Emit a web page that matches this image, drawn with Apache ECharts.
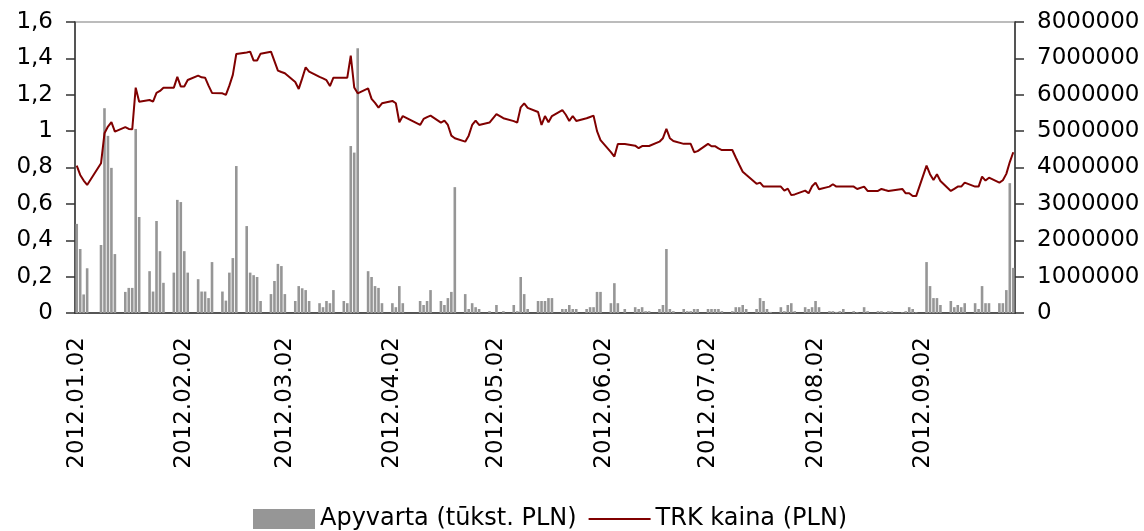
<!DOCTYPE html>
<html><head><meta charset="utf-8">
<script src="https://cdn.jsdelivr.net/npm/echarts@6/dist/echarts.min.js"></script>
<style>html,body{margin:0;padding:0;background:#fff}#c{width:1144px;height:531px}</style>
</head><body><div id="c"></div>
<script>
// Calendar range of the x axis (every calendar day is a category; weekends are empty)
const firstDay = [2012, 0, 2];
const lastDay = [2012, 8, 28];

// Series names
const seriesNames = ['Apyvarta (tūkst. PLN)', 'TRK kaina (PLN)'];

// TRK price, one value per weekday (Mon..Fri), null = exchange holiday
const price = [
  0.810, 0.759, 0.728, 0.704, null,
  0.823, 0.988, 1.025, 1.049, 0.997,
  1.022, 1.012, 1.010, 1.239, 1.162,
  1.171, 1.162, 1.210, 1.221, 1.239,
  1.239, 1.298, 1.245, 1.245, 1.281,
  1.305, 1.296, 1.294, 1.250, 1.210,
  1.208, 1.199, 1.250, 1.309, 1.424,
  1.432, 1.437, 1.388, 1.388, 1.426,
  1.437, 1.385, 1.333, 1.325, 1.318,
  1.270, 1.232, 1.290, 1.351, 1.327,
  1.298, 1.290, 1.280, 1.248, 1.294,
  1.294, 1.294, 1.415, 1.240, 1.208,
  1.235, 1.177, 1.155, 1.129, 1.153,
  1.166, 1.153, 1.049, 1.083, null,
  null, 1.034, 1.067, 1.077, 1.085,
  1.047, 1.058, 1.034, 0.975, 0.961,
  0.942, 0.975, 1.034, 1.058, 1.034,
  1.047, null, 1.094, null, 1.071,
  1.055, 1.047, 1.131, 1.153, 1.128,
  1.105, 1.034, 1.083, 1.049, 1.083,
  1.116, 1.090, 1.056, 1.083, 1.056,
  1.071, 1.078, 1.085, 1.000, 0.951,
  0.885, 0.860, 0.929, null, 0.929,
  0.920, 0.906, 0.918, 0.918, 0.918,
  0.942, 0.961, 1.012, 0.961, 0.946,
  0.930, 0.930, 0.930, 0.884, 0.890,
  0.930, 0.917, 0.917, 0.905, 0.896,
  0.896, 0.855, 0.815, 0.777, 0.760,
  0.710, 0.717, 0.695, 0.695, 0.695,
  0.695, 0.673, 0.684, 0.648, 0.652,
  0.673, 0.658, 0.697, 0.717, 0.680,
  0.695, 0.708, 0.695, 0.695, 0.695,
  0.695, 0.682, null, 0.695, 0.671,
  0.671, 0.682, 0.676, 0.671, 0.674,
  0.682, 0.658, 0.658, 0.643, 0.643,
  0.810, 0.763, 0.731, 0.763, 0.726,
  0.671, 0.683, 0.695, 0.695, 0.717,
  0.695, 0.695, 0.750, 0.728, 0.744,
  0.717, 0.730, 0.765, 0.830, 0.884
];

// Turnover, one value per weekday (Mon..Fri), null = exchange holiday
const volume = [
  2450000, 1760000, 510000, 1230000, null,
  1870000, 5630000, 4870000, 3990000, 1620000,
  580000, 690000, 690000, 5060000, 2640000,
  1150000, 590000, 2530000, 1700000, 830000,
  1110000, 3110000, 3050000, 1700000, 1110000,
  930000, 590000, 590000, 410000, 1400000,
  590000, 340000, 1110000, 1510000, 4040000,
  2390000, 1110000, 1040000, 990000, 330000,
  520000, 880000, 1350000, 1290000, 520000,
  330000, 740000, 680000, 630000, 330000,
  270000, 160000, 330000, 270000, 630000,
  330000, 270000, 4590000, 4410000, 7280000,
  1150000, 990000, 740000, 690000, 270000,
  270000, 160000, 740000, 270000, null,
  null, 330000, 220000, 330000, 630000,
  330000, 220000, 410000, 580000, 3460000,
  520000, 110000, 270000, 160000, 110000,
  50000, null, 220000, null, 50000,
  220000, 50000, 990000, 520000, 110000,
  330000, 330000, 330000, 410000, 410000,
  110000, 110000, 220000, 110000, 110000,
  110000, 160000, 160000, 580000, 580000,
  270000, 820000, 270000, null, 110000,
  160000, 110000, 160000, 50000, 50000,
  110000, 220000, 1760000, 110000, 50000,
  110000, 50000, 50000, 110000, 110000,
  110000, 110000, 110000, 110000, 50000,
  50000, 160000, 160000, 220000, 110000,
  110000, 410000, 330000, 110000, 30000,
  160000, 50000, 220000, 270000, 50000,
  160000, 110000, 160000, 330000, 160000,
  50000, 50000, 30000, 50000, 110000,
  50000, 20000, null, 160000, 50000,
  50000, 50000, 20000, 50000, 50000,
  20000, 50000, 160000, 110000, 20000,
  1400000, 740000, 410000, 410000, 220000,
  330000, 160000, 220000, 160000, 270000,
  270000, 110000, 740000, 270000, 270000,
  270000, 270000, 630000, 3570000, 1240000
];

// Build calendar categories and align weekday values to them
const categories = [], priceData = [], volumeData = [];
const pad = n => String(n).padStart(2, '0');
let k = 0;
const tEnd = Date.UTC(...lastDay);
for (let t = Date.UTC(...firstDay); t <= tEnd; t += 86400000) {
  const d = new Date(t);
  const wd = d.getUTCDay();
  categories.push(d.getUTCFullYear() + '.' + pad(d.getUTCMonth() + 1) + '.' + pad(d.getUTCDate()));
  if (wd === 0 || wd === 6) { priceData.push(null); volumeData.push(null); }
  else { priceData.push(price[k]); volumeData.push(volume[k]); k++; }
}

const FONT = 'DejaVu Sans';
const LINE_COLOR = '#800000';
const BAR_COLOR = '#969696';
const chart = echarts.init(document.getElementById('c'), null, {renderer: 'canvas'});
chart.setOption({
  animation: false,
  backgroundColor: '#fff',
  textStyle: {fontFamily: FONT, color: '#000'},
  grid: {left: 75, right: 129, top: 22, bottom: 218, show: true, borderColor: '#a6a6a6', borderWidth: 1.5},
  legend: {
    left: 248, top: 502, itemWidth: 62, itemHeight: 20, itemGap: 12,
    symbolKeepAspect: true,
    textStyle: {fontFamily: FONT, fontSize: 24, color: '#000'},
    data: [
      {name: seriesNames[0], icon: 'rect', itemStyle: {color: BAR_COLOR}},
      {name: seriesNames[1], icon: 'path://M0,0H100V3.4H0Z', itemStyle: {color: LINE_COLOR}}
    ]
  },
  xAxis: {
    type: 'category', data: categories, boundaryGap: true,
    axisLine: {lineStyle: {color: '#333', width: 1.5}},
    axisTick: {show: false},
    axisLabel: {rotate: 90, interval: (i, v) => v.slice(8) === '02', fontFamily: FONT, fontSize: 23, color: '#000', margin: 24}
  },
  yAxis: [
    {
      type: 'value', min: 0, max: 1.6, interval: 0.2, position: 'left',
      axisLine: {show: true, lineStyle: {color: '#333', width: 1.5}},
      axisTick: {show: true, length: 9, lineStyle: {color: '#333', width: 1.5}},
      splitLine: {show: false},
      axisLabel: {formatter: v => String(+v.toFixed(1)).replace('.', ','), fontFamily: FONT, fontSize: 23, color: '#000', margin: 22}
    },
    {
      type: 'value', min: 0, max: 8000000, interval: 1000000, position: 'right',
      axisLine: {show: true, lineStyle: {color: '#333', width: 1.5}},
      axisTick: {show: true, length: 9, lineStyle: {color: '#333', width: 1.5}},
      splitLine: {show: false},
      axisLabel: {formatter: v => String(v), fontFamily: FONT, fontSize: 23, color: '#000', margin: 22}
    }
  ],
  series: [
    {
      name: seriesNames[0], type: 'bar', yAxisIndex: 1, data: volumeData,
      barWidth: 2.6, itemStyle: {color: BAR_COLOR}, z: 2
    },
    {
      name: seriesNames[1], type: 'line', yAxisIndex: 0, data: priceData,
      connectNulls: true, symbol: 'none', lineStyle: {color: LINE_COLOR, width: 2},
      itemStyle: {color: LINE_COLOR}, z: 3
    }
  ]
});
</script>
</body></html>
